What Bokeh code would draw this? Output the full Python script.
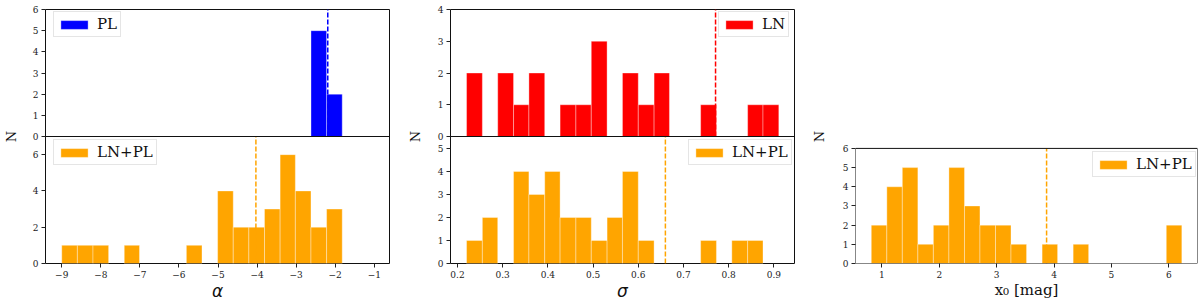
import numpy as np
from bokeh.plotting import figure
from bokeh.models import (Range1d, FixedTicker, CustomJSTickFormatter, Legend,
                          LegendItem, Span, BoxAnnotation)
from bokeh.layouts import row
from bokeh.embed import file_html
from bokeh.resources import INLINE

# ---------------- data ----------------
# alpha panel
alpha_edges = [-9.00, -8.60, -8.20, -7.80, -7.40, -7.01, -6.61, -6.21, -5.81, -5.41,
               -5.01, -4.61, -4.21, -3.81, -3.41, -3.02, -2.62, -2.22, -1.82]
alpha_lnpl_counts = [1, 1, 1, 0, 1, 0, 0, 0, 1, 0, 4, 2, 2, 3, 6, 4, 2, 3]
alpha_pl_edges = [-2.62, -2.22, -1.82]
alpha_pl_counts = [5, 2]
alpha_pl_median = -2.19
alpha_lnpl_median = -4.03
alpha_ticks = [-9, -8, -7, -6, -5, -4, -3, -2, -1]

# sigma panel
sigma_edges = [0.220, 0.255, 0.289, 0.324, 0.358, 0.393, 0.427, 0.462, 0.496, 0.531,
               0.565, 0.600, 0.635, 0.669, 0.704, 0.738, 0.773, 0.807, 0.842, 0.876, 0.911]
sigma_ln_counts = [2, 0, 2, 1, 2, 0, 1, 1, 3, 0, 2, 1, 2, 0, 0, 1, 0, 0, 1, 1]
sigma_lnpl_counts = [1, 2, 0, 4, 3, 4, 2, 2, 1, 2, 4, 1, 0, 0, 0, 1, 0, 1, 1, 0]
sigma_ln_median = 0.771
sigma_lnpl_median = 0.660
sigma_ticks = [0.2, 0.3, 0.4, 0.5, 0.6, 0.7, 0.8, 0.9]

# x0 panel
x0_edges = [0.815, 1.086, 1.356, 1.627, 1.897, 2.168, 2.439, 2.709, 2.980, 3.250, 3.521,
            3.792, 4.062, 4.333, 4.603, 4.874, 5.145, 5.415, 5.686, 5.956, 6.227]
x0_lnpl_counts = [2, 4, 5, 1, 2, 5, 3, 2, 2, 1, 0, 1, 0, 1, 0, 0, 0, 0, 0, 2]
x0_lnpl_median = 3.87
x0_ticks = [1, 2, 3, 4, 5, 6]

# y-axis tick values for each panel
alpha_top_yticks = [0, 1, 2, 3, 4, 5, 6]
alpha_bot_yticks = [0, 2, 4, 6]
sigma_top_yticks = [0, 1, 2, 3, 4]
sigma_bot_yticks = [0, 1, 2, 3, 4, 5]
x0_yticks = [0, 1, 2, 3, 4, 5, 6]

BLUE = "#0000ff"
RED = "#ff0000"
ORANGE = "#ffa500"
SERIF = "DejaVu Serif"
TXT = "#111111"
H = 303


def make_fig(width, x_range, y_range, left, right, xlabel, ylabel_standoff,
             xlabel_font=SERIF, xlabel_size="15px", xlabel_style="normal"):
    p = figure(width=width, height=H, x_range=x_range, y_range=y_range,
               output_backend="svg", toolbar_location=None,
               min_border_left=left, min_border_right=right,
               min_border_top=9, min_border_bottom=38)
    p.xgrid.visible = False
    p.ygrid.visible = False
    p.outline_line_color = "#111111"
    p.outline_line_width = 1
    p.outline_line_alpha = 1.0
    p.background_fill_color = "white"
    p.border_fill_color = "white"
    for ax in (p.xaxis[0], p.yaxis[0]):
        ax.axis_line_color = None
        ax.major_tick_out = 4
        ax.major_tick_in = 0
        ax.minor_tick_line_color = None
        ax.major_tick_line_color = "#222222"
        ax.major_label_text_font = SERIF
        ax.major_label_text_font_size = "9px"
        ax.major_label_text_color = "#222222"
        ax.major_label_standoff = 3
        ax.axis_label_text_color = TXT
    xa = p.xaxis[0]
    xa.axis_label = xlabel
    xa.axis_label_text_font = xlabel_font
    xa.axis_label_text_font_size = xlabel_size
    xa.axis_label_text_font_style = xlabel_style
    xa.axis_label_standoff = 0
    ya = p.yaxis[0]
    ya.axis_label = "N"
    ya.axis_label_text_font = SERIF
    ya.axis_label_text_font_size = "13px"
    ya.axis_label_text_font_style = "normal"
    ya.axis_label_standoff = ylabel_standoff
    return p


def hist(target, edges, counts, color):
    e = np.asarray(edges, dtype=float)
    c = np.asarray(counts, dtype=float)
    m = c > 0
    return target.quad(left=e[:-1][m], right=e[1:][m], top=c[m], bottom=0,
                       fill_color=color, line_color="white", line_alpha=0.35,
                       line_width=1)


def set_ticks(axis, positions, labels):
    axis.ticker = FixedTicker(ticks=list(positions))
    axis.formatter = CustomJSTickFormatter(
        args=dict(pos=list(positions), lab=list(labels)),
        code="""
        for (let i = 0; i < pos.length; i++) {
            if (Math.abs(tick - pos[i]) < 1e-6) { return lab[i]; }
        }
        return "";
        """)


def map_to(src, tgt, vals):
    s = (tgt.end - tgt.start) / (src.end - src.start)
    return [tgt.start + (v - src.start) * s for v in vals]


def add_legend(p, renderer, text, loc):
    leg = Legend(items=[LegendItem(label=text, renderers=[renderer])], location=loc,
                 label_text_font=SERIF, label_text_font_size="15px",
                 label_text_color=TXT, glyph_width=34, glyph_height=11,
                 label_standoff=6, padding=3, spacing=0, margin=0,
                 border_line_color="#cccccc", border_line_width=1,
                 background_fill_color="white", background_fill_alpha=0.8)
    p.add_layout(leg)


# ---------------- alpha column ----------------
a_bot = Range1d(0, 7)
a_top_src = Range1d(0, 6)
pA = make_fig(404, Range1d(-9.416, -0.61), Range1d(a_bot.start, 2 * a_bot.end),
              44, 15, "\u03b1", 11, xlabel_font="DejaVu Sans", xlabel_size="17px",
              xlabel_style="italic")
a_top_tgt = Range1d(a_bot.end, 2 * a_bot.end)
subA = pA.subplot(x_source=pA.x_range, y_source=a_top_src,
                  x_target=pA.x_range, y_target=a_top_tgt)
rA_top = hist(subA, alpha_pl_edges, alpha_pl_counts, BLUE)
rA_bot = hist(pA, alpha_edges, alpha_lnpl_counts, ORANGE)
subA.segment(x0=[alpha_pl_median], y0=[a_top_src.start], x1=[alpha_pl_median],
             y1=[a_top_src.end], line_color=BLUE, line_width=1.5, line_dash="5 2")
pA.segment(x0=[alpha_lnpl_median], y0=[a_bot.start], x1=[alpha_lnpl_median],
           y1=[a_bot.end], line_color=ORANGE, line_width=1.5, line_dash="5 2")
pA.add_layout(Span(location=a_bot.end, dimension="width", line_color="#111111",
                   line_width=1))
set_ticks(pA.yaxis[0], alpha_bot_yticks + map_to(a_top_src, a_top_tgt, alpha_top_yticks),
          [str(v) for v in alpha_bot_yticks] + [str(v) for v in alpha_top_yticks])
pA.xaxis[0].ticker = FixedTicker(ticks=alpha_ticks)
pA.xaxis[0].formatter = CustomJSTickFormatter(
    code="return tick < 0 ? '\u2212' + String(Math.abs(tick)) : String(tick);")
add_legend(pA, rA_top, "PL", (8, 226))
add_legend(pA, rA_bot, "LN+PL", (8, 98))

# ---------------- sigma column ----------------
s_bot = Range1d(0, 5.52)
s_top_src = Range1d(0, 4)
pB = make_fig(402, Range1d(0.1845, 0.9457), Range1d(s_bot.start, 2 * s_bot.end),
              46, 12, "\u03c3", 12, xlabel_font="DejaVu Sans", xlabel_size="17px",
              xlabel_style="italic")
s_top_tgt = Range1d(s_bot.end, 2 * s_bot.end)
subB = pB.subplot(x_source=pB.x_range, y_source=s_top_src,
                  x_target=pB.x_range, y_target=s_top_tgt)
rB_top = hist(subB, sigma_edges, sigma_ln_counts, RED)
rB_bot = hist(pB, sigma_edges, sigma_lnpl_counts, ORANGE)
subB.segment(x0=[sigma_ln_median], y0=[s_top_src.start], x1=[sigma_ln_median],
             y1=[s_top_src.end], line_color=RED, line_width=1.5, line_dash="5 2")
pB.segment(x0=[sigma_lnpl_median], y0=[s_bot.start], x1=[sigma_lnpl_median],
           y1=[s_bot.end], line_color=ORANGE, line_width=1.5, line_dash="5 2")
pB.add_layout(Span(location=s_bot.end, dimension="width", line_color="#111111",
                   line_width=1))
set_ticks(pB.yaxis[0], sigma_bot_yticks + map_to(s_top_src, s_top_tgt, sigma_top_yticks),
          [str(v) for v in sigma_bot_yticks] + [str(v) for v in sigma_top_yticks])
pB.xaxis[0].ticker = FixedTicker(ticks=sigma_ticks)
add_legend(pB, rB_top, "LN", (268, 226))
add_legend(pB, rB_bot, "LN+PL", (238, 98))

# ---------------- x0 column ----------------
# the x0 panel fills the lower 116 px of a 256 px frame
c_panel = Range1d(0, 6)
c_full_top = c_panel.end * 256.0 / 116.0
pC = make_fig(394, Range1d(0.54, 6.50), Range1d(c_panel.start, c_full_top),
              49, 3, "x\u2080 [mag]", 13)
pC.outline_line_color = None
pC.add_layout(BoxAnnotation(bottom=c_panel.start, top=c_panel.end, fill_alpha=0,
                            line_color="#111111", line_width=1, line_alpha=1.0))
rC = hist(pC, x0_edges, x0_lnpl_counts, ORANGE)
pC.segment(x0=[x0_lnpl_median], y0=[c_panel.start], x1=[x0_lnpl_median],
           y1=[c_panel.end], line_color=ORANGE, line_width=1.5, line_dash="5 2")
pC.xaxis[0].ticker = FixedTicker(ticks=x0_ticks)
pC.yaxis[0].ticker = FixedTicker(ticks=x0_yticks)
add_legend(pC, rC, "LN+PL", (237, 86))

layout = row(pA, pB, pC)
open("out.html", "w").write(file_html(layout, INLINE))
